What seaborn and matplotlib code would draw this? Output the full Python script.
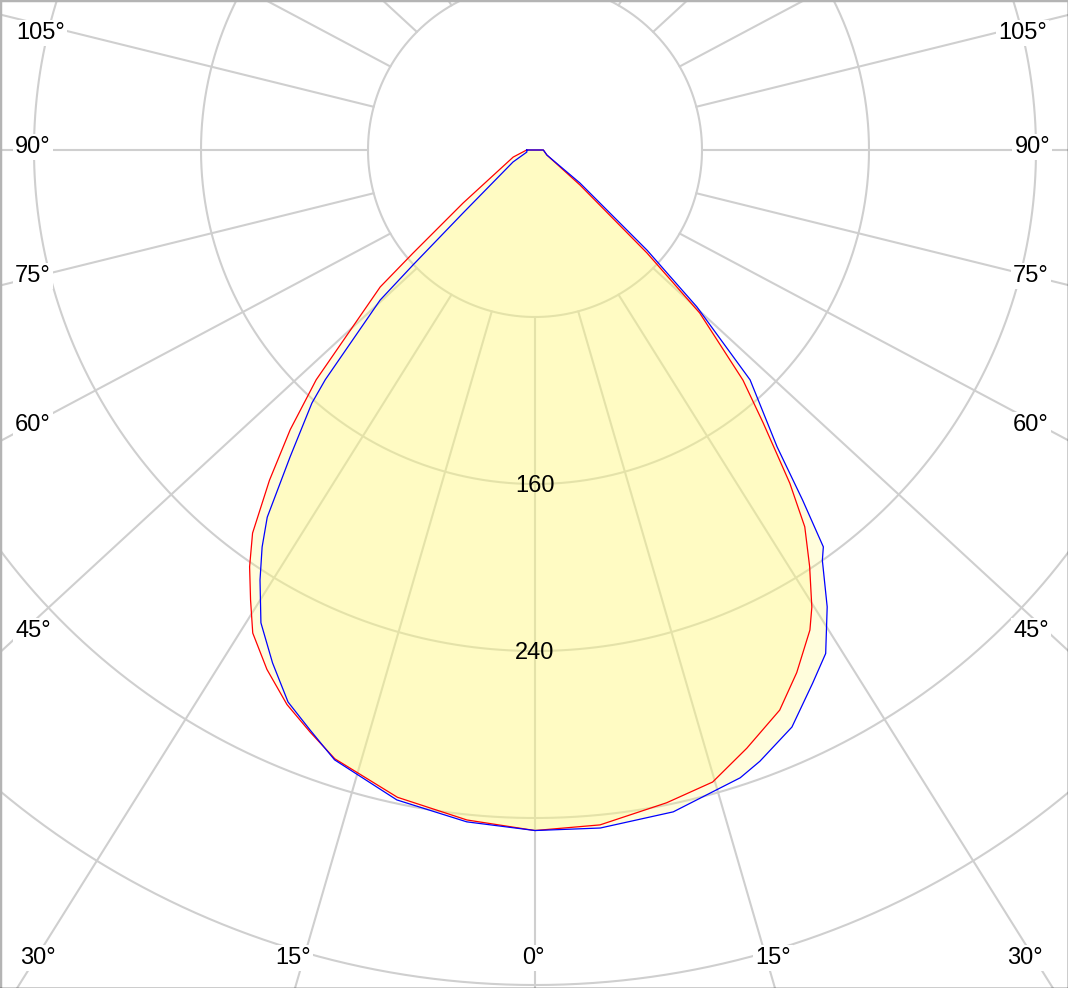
import numpy as np
import pandas as pd
import seaborn as sns
import matplotlib.pyplot as plt

# luminous intensity (cd) against angle from nadir (deg)
red_left_deg = [0, 5.8, 12.0, 18.2, 21.1, 24.1, 27.3, 30.3, 32.3, 34.4, 36.4, 38.8,
                41.2, 43.6, 48.5, 49.8, 53.6, 72, 90]
red_left_cd = [326, 322.6, 317, 307, 299, 291, 280, 268, 255, 242, 228, 203,
               178, 152, 99, 76.5, 42.8, 11, 4]
red_right_deg = [0, 5.5, 11.4, 15.7, 19.5, 23.6, 26.6, 29.8, 31.2, 33.4, 35.6, 37.4,
                 39.9, 42.1, 45.3, 47.4, 52.1, 67, 90]
red_right_cd = [326, 324.8, 319, 314.5, 304, 292.8, 280, 265, 256, 239, 222, 201,
                170.4, 148.6, 111, 72.9, 27.3, 6.2, 4]
blue_left_deg = [0, 5.8, 12.0, 18.2, 21.2, 24.1, 27.1, 30.1, 32.6, 34.5, 36.1, 38.6,
                 41.4, 42.4, 45.9, 46.7, 48.8, 61.4, 76, 90]
blue_left_cd = [326, 323.5, 318.3, 307.5, 298, 289.7, 276, 261.8, 244.5, 230.8, 217.7, 188,
                161.6, 149, 103.3, 80.3, 45.8, 12, 4, 4]
blue_right_deg = [0, 5.5, 11.8, 18.1, 20.2, 24.0, 27.5, 30.0, 32.6, 35.0, 36.0, 37.4,
                  39.2, 43.1, 45.9, 48.2, 53.7, 67, 90]
blue_right_cd = [326, 326.3, 323.9, 316.4, 312, 302.6, 288, 278.5, 259.8, 240, 235, 211,
                 183.5, 150.8, 108, 72, 26.7, 6.2, 4]

rings = [80, 160, 240, 320, 400, 480]
ring_labels = [160, 240]
spoke_angles = list(range(0, 360, 15))

# angle labels: text, x px, y px, alignment
angle_label_layout = [
    ("105°", 16, 33, "left"), ("90°", 15, 147, "left"), ("75°", 15, 276, "left"),
    ("60°", 15, 425, "left"), ("45°", 15, 631, "left"),
    ("30°", 38, 958, "center"), ("15°", 293, 958, "center"), ("0°", 533, 958, "center"),
    ("15°", 773, 958, "center"), ("30°", 1025, 958, "center"),
    ("45°", 1049, 631, "right"), ("60°", 1049, 425, "right"), ("75°", 1049, 276, "right"),
    ("90°", 1050, 147, "right"), ("105°", 1047, 33, "right"),
]

# layout in pixels
W, H = 1068, 988
cx, cy = 535, 150
s = 2.0875          # px per cd
k = 1.085           # spokes fan out a little wider than the true angle


def half(deg, cd, side):
    g = np.radians(deg)
    cd = np.asarray(cd, dtype=float)
    return side * cd * np.sin(g), -cd * np.cos(g)


def plane(ldeg, lcd, rdeg, rcd):
    xl, yl = half(ldeg, lcd, -1)
    xr, yr = half(rdeg, rcd, 1)
    return pd.DataFrame({"x": np.concatenate([xl[::-1], xr]),
                         "y": np.concatenate([yl[::-1], yr])})


sns.set_theme(style="white")
plt.rcParams["font.family"] = ["Liberation Sans", "DejaVu Sans"]

fig = plt.figure(figsize=(W / 100, H / 100), dpi=100)
ax = fig.add_axes([0, 0, 1, 1])
ax.set_xlim(-cx / s, (W - cx) / s)
ax.set_ylim(-(H - cy) / s, cy / s)
ax.set_xticks([])
ax.set_yticks([])

grid_col = "#cfcfcf"
# rings
phi = np.linspace(0, 2 * np.pi, 721)
for r in rings:
    ax.plot(r * np.cos(phi), r * np.sin(phi), color=grid_col, lw=1.5, zorder=1)

# spokes, starting at the inner ring
for a in spoke_angles:
    t = np.radians(a)
    x0, y0 = rings[0] * np.sin(t), -rings[0] * np.cos(t)
    d = np.array([k * np.sin(t), -np.cos(t)])
    d = d / np.hypot(*d)
    ax.plot([x0, x0 + 1200 * d[0]], [y0, y0 + 1200 * d[1]], color=grid_col, lw=1.5, zorder=1)

# the two C-planes
red = plane(red_left_deg, red_left_cd, red_right_deg, red_right_cd)
blue = plane(blue_left_deg, blue_left_cd, blue_right_deg, blue_right_cd)
for df in (red, blue):
    ax.fill(df["x"], df["y"], color="#FFF980", alpha=0.27, lw=0, zorder=2)

red_line = pd.concat([red, red.iloc[:1]], ignore_index=True)
blue_line = pd.concat([blue, blue.iloc[:1]], ignore_index=True)
sns.lineplot(data=red_line, x="x", y="y", sort=False, estimator=None,
             color="#ff0000", lw=0.9, ax=ax, zorder=3)
sns.lineplot(data=blue_line, x="x", y="y", sort=False, estimator=None,
             color="#0000ff", lw=0.9, ax=ax, zorder=3)
ax.set_xlabel("")
ax.set_ylabel("")

# ring values
for v in ring_labels:
    ax.text(0, -v - 1, str(v), ha="center", va="center", fontsize=17,
            color="black", zorder=4)

# angle labels near the frame
for txt, px, py, ha in angle_label_layout:
    ax.text((px - cx) / s, (cy - py) / s, txt, ha=ha, va="center", fontsize=17,
            color="black", zorder=5,
            bbox=dict(facecolor="white", edgecolor="none", pad=1.5))

for side in ("left", "top"):
    ax.spines[side].set_color("#b4b4b4")
    ax.spines[side].set_linewidth(2.5)
for side in ("right", "bottom"):
    ax.spines[side].set_color("black")
    ax.spines[side].set_linewidth(1)

fig.savefig("out.png", dpi=100)
